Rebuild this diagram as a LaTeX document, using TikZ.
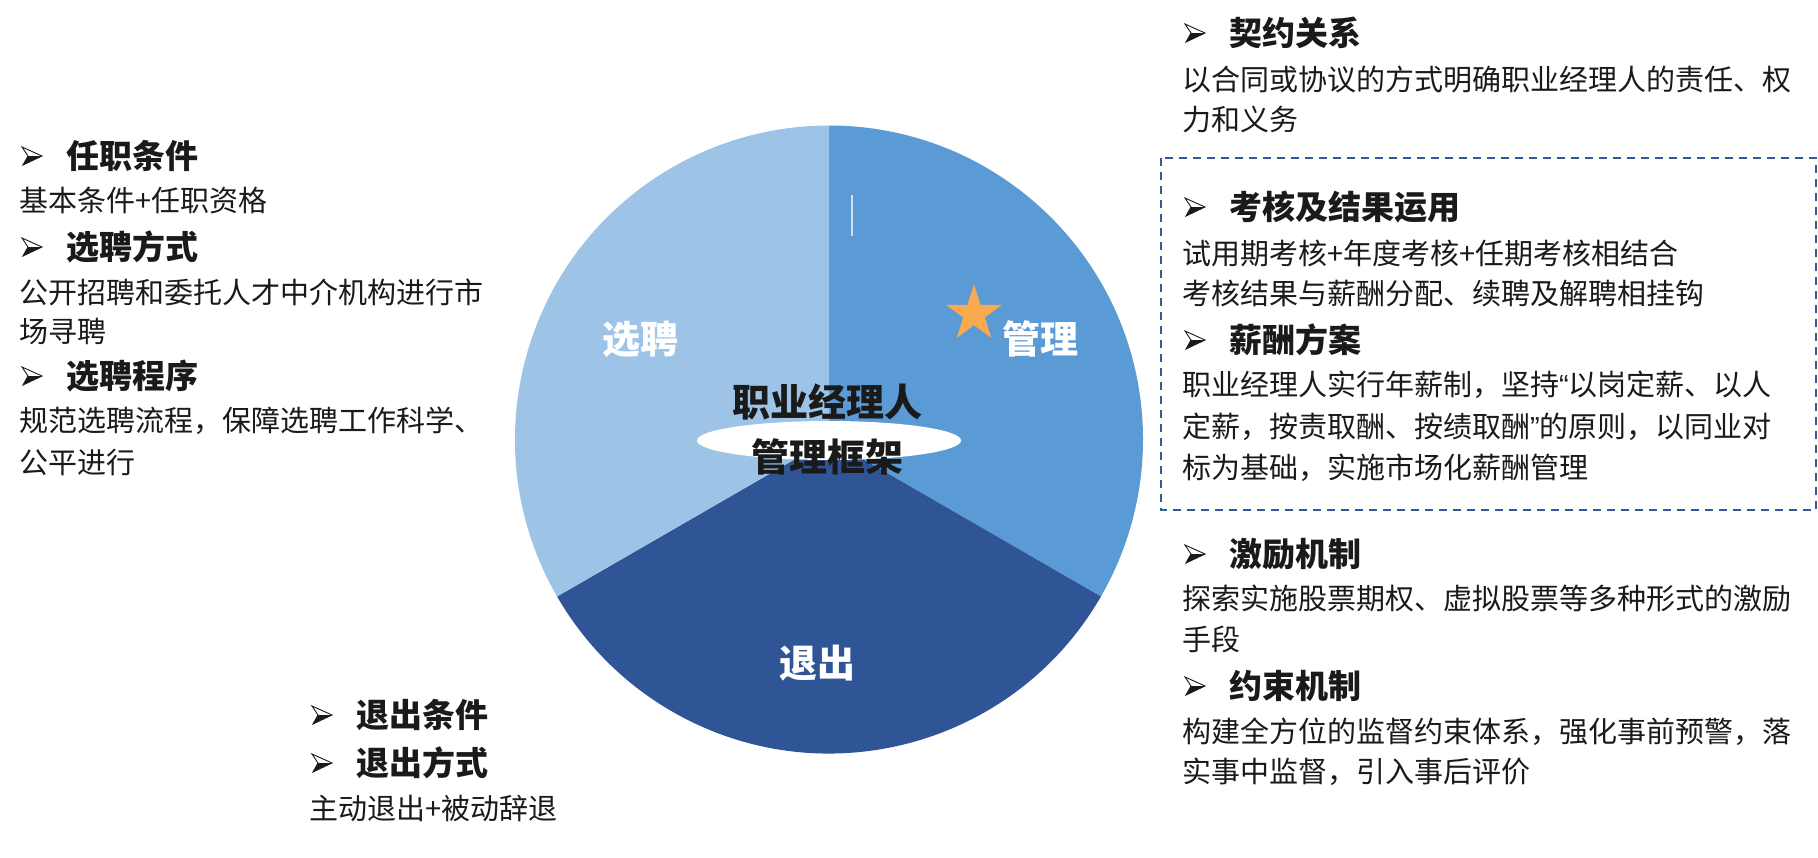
\documentclass[tikz,border=0pt]{standalone}
\usepackage{fontspec}
\usetikzlibrary{shapes.geometric}
\newfontfamily\cjk{Noto Sans CJK SC}
\newfontfamily\lat{Liberation Sans}
\definecolor{selc}{HTML}{9DC3E6}
\definecolor{mgmt}{HTML}{5B9BD5}
\definecolor{exitc}{HTML}{2F5597}
\definecolor{starc}{HTML}{F9A94E}
\definecolor{dashc}{HTML}{2F5A9E}
\definecolor{txt}{HTML}{1A1A1A}
\tikzset{
  body/.style={anchor=west, inner sep=0pt, text=txt, font=\cjk\fontsize{29}{29}\selectfont},
  head/.style={anchor=west, inner sep=0pt, text=txt, font=\cjk\bfseries\fontsize{33}{33}\selectfont},
  plabel/.style={inner sep=0pt, text=white, font=\cjk\bfseries\fontsize{38}{38}\selectfont},
  ptitle/.style={inner sep=0pt, text=txt, font=\cjk\bfseries\fontsize{38}{38}\selectfont},
  dashbox/.style={draw=dashc, line width=2pt, dash pattern=on 8pt off 6pt},
  barrow/.pic={
    \fill[txt] (-4,0) -- (10,0) -- (-9,-9) -- cycle;
    \draw[txt, line width=0.9pt, line join=miter] (-10,9) -- (10,0) -- (-9,-9) -- (-4,0) -- cycle;
  },
}
\begin{document}
\begin{tikzpicture}[x=1pt,y=1pt]
\useasboundingbox (0,0) rectangle (1818,-857);
\fill[white] (0,0) rectangle (1818,-857);
% pie
\coordinate (C) at (829,-439.5);
\fill[mgmt] (C) -- ++(90:314) arc[start angle=90, end angle=-30, radius=314] -- cycle;
\fill[exitc] (C) -- ++(-30:314) arc[start angle=-30, end angle=-150, radius=314] -- cycle;
\fill[selc] (C) -- ++(-150:314) arc[start angle=-150, end angle=-270, radius=314] -- cycle;
\draw[white, opacity=0.7, line width=1.2pt] (852,-195) -- (852,-236);
\node[ellipse, fill=white, minimum width=264pt, minimum height=39pt, inner sep=0pt] (ell) at (829,-440.5) {};
\node[star, star points=5, star point ratio=2.618, fill=starc, minimum size=59pt, inner sep=0pt] (star) at (974,-314) {};
\node[plabel] (lsel) at (640,-339) {选聘};
\node[plabel] (lmgmt) at (1040,-339) {管理};
\node[plabel] (lexit) at (817,-663) {退出};
\node[ptitle] (t1) at (827,-401.5) {职业经理人};
\node[ptitle] (t2) at (827,-456.5) {管理框架};
% dashed box
\draw[dashbox] (1161,-158) rectangle (1816,-510);
% left column
\pic at (32,-156) {barrow};
\node[head] (lh1) at (66,-156) {任职条件};
\node[body] (lb1) at (19,-200) {基本条件+任职资格};
\pic at (32,-247) {barrow};
\node[head] (lh2) at (66,-247) {选聘方式};
\node[body] (lb2) at (19,-292) {公开招聘和委托人才中介机构进行市};
\node[body] (lb3) at (19,-331) {场寻聘};
\pic at (32,-376) {barrow};
\node[head] (lh3) at (66,-376) {选聘程序};
\node[body] (lb4) at (19,-421) {规范选聘流程，保障选聘工作科学、};
\node[body] (lb5) at (19,-463) {公平进行};
% bottom column
\pic at (322,-715) {barrow};
\node[head] (bh1) at (356,-715) {退出条件};
\pic at (322,-763) {barrow};
\node[head] (bh2) at (356,-763) {退出方式};
\node[body] (bb1) at (309,-808) {主动退出+被动辞退};
% right column
\pic at (1195,-33) {barrow};
\node[head] (rh1) at (1229,-33) {契约关系};
\node[body] (rb1) at (1182,-79) {以合同或协议的方式明确职业经理人的责任、权};
\node[body] (rb2) at (1182,-119) {力和义务};
\pic at (1195,-207) {barrow};
\node[head] (rh2) at (1229,-207) {考核及结果运用};
\node[body] (rb3) at (1182,-253) {试用期考核+年度考核+任期考核相结合};
\node[body] (rb4) at (1182,-293) {考核结果与薪酬分配、续聘及解聘相挂钩};
\pic at (1195,-340) {barrow};
\node[head] (rh3) at (1229,-340) {薪酬方案};
\node[body] (rb5) at (1182,-385) {职业经理人实行年薪制，坚持{\lat “}以岗定薪、以人};
\node[body] (rb6) at (1182,-427) {定薪，按责取酬、按绩取酬{\lat ”}的原则，以同业对};
\node[body] (rb7) at (1182,-468) {标为基础，实施市场化薪酬管理};
\pic at (1195,-554) {barrow};
\node[head] (rh4) at (1229,-554) {激励机制};
\node[body] (rb8) at (1182,-598) {探索实施股票期权、虚拟股票等多种形式的激励};
\node[body] (rb9) at (1182,-639) {手段};
\pic at (1195,-686) {barrow};
\node[head] (rh5) at (1229,-686) {约束机制};
\node[body] (rb10) at (1182,-732) {构建全方位的监督约束体系，强化事前预警，落};
\node[body] (rb11) at (1182,-772) {实事中监督，引入事后评价};
\end{tikzpicture}
\end{document}
